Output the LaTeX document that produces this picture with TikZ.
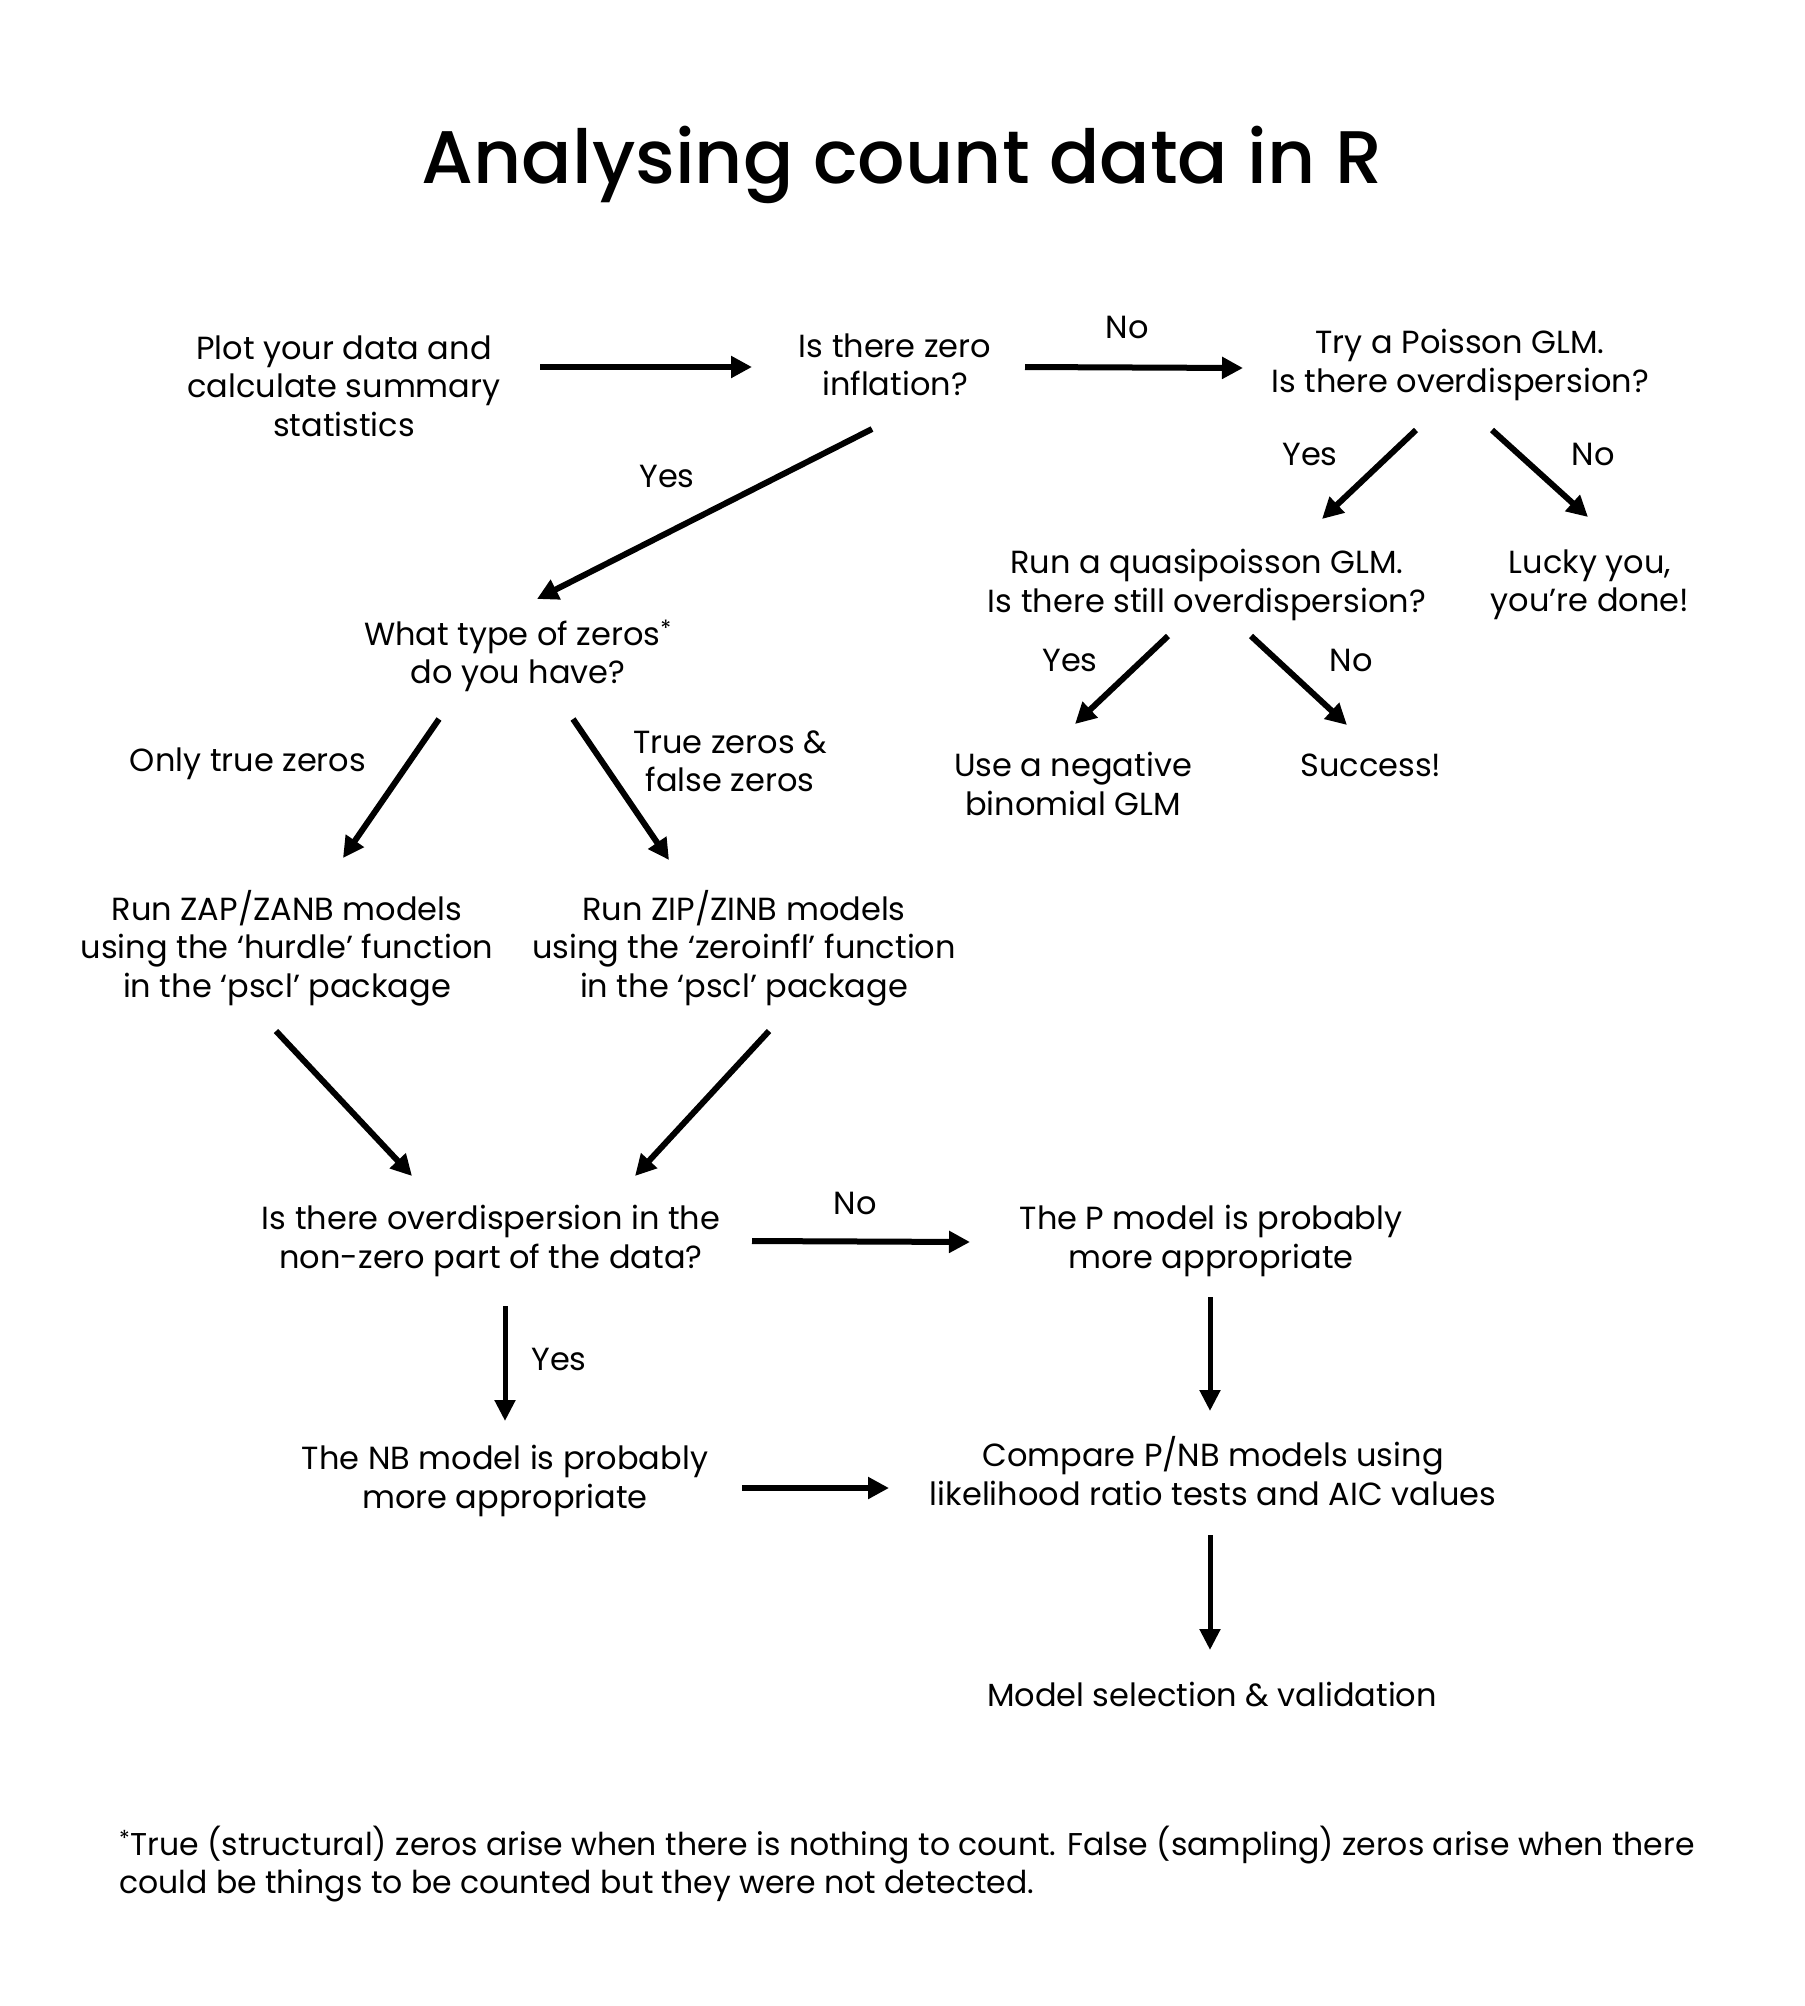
\documentclass[tikz,border=0pt]{standalone}
\usepackage{fontspec}
\setmainfont{Poppins}
\newfontfamily\titlefont{Poppins Medium}
\usetikzlibrary{arrows.meta}
\tikzset{
  txt/.style={align=center, inner sep=0pt, font=\fontsize{32}{38.4}\selectfont},
  lbl/.style={inner sep=0pt, font=\fontsize{32}{38.4}\selectfont},
  arr/.style={line width=6pt, -{Triangle[length=21pt,width=21pt]}},
  varr/.style={line width=5pt, -{Triangle[length=21pt,width=20pt]}}
}
\begin{document}
\begin{tikzpicture}[x=1pt,y=-1pt]
\fill[white] (0,0) rectangle (1805,2006);
\path[use as bounding box] (0,0) rectangle (1805,2006);

\node[anchor=base, inner sep=0pt, font=\fontsize{74.5}{90}\titlefont] (title) at (902,183) {Analysing count data in R};

\node[txt] (plot) at (344,386) {Plot your data and\\calculate summary\\statistics};
\node[txt] (zero) at (895,365) {Is there zero\\inflation?};
\node[txt] (poisson) at (1460,365) {Try a Poisson GLM.\\Is there overdispersion?};
\node[txt] (quasi) at (1207,585) {Run a quasipoisson GLM.\\Is there still overdispersion?};
\node[txt] (lucky) at (1590,585) {Lucky you,\\you’re done!};
\node[txt] (negbin) at (1073,784) {Use a negative\\binomial GLM};
\node[txt] (success) at (1371,765) {Success!};
\node[txt] (what) at (518,656) {What type of zeros\textsuperscript{*}\\do you have?};
\node[txt] (zap) at (287,948) {Run ZAP/ZANB models\\using the ‘hurdle’ function\\in the ‘pscl’ package};
\node[txt] (zip) at (744,948) {Run ZIP/ZINB models\\using the ‘zeroinfl’ function\\in the ‘pscl’ package};
\node[txt] (overd) at (491,1241) {Is there overdispersion in the\\non-zero part of the data?};
\node[txt] (pmod) at (1211,1241) {The P model is probably\\more appropriate};
\node[txt] (nbmod) at (505,1481) {The NB model is probably\\more appropriate};
\node[txt] (compare) at (1213,1471) {Compare P/NB models using\\likelihood ratio tests and AIC values};
\node[txt] (select) at (1212,1694) {Model selection \& validation};

\node[txt, anchor=west, align=left, font=\fontsize{31.5}{38.4}\selectfont] (foot) at (119,1864) {\textsuperscript{*}True (structural) zeros arise when there is nothing to count. False (sampling) zeros arise when there\\could be things to be counted but they were not detected.};

% labels
\node[lbl] (l1) at (1127,327) {No};
\node[lbl] (l2) at (667,476) {Yes};
\node[lbl] (l3) at (1310,454) {Yes};
\node[lbl] (l4) at (1593,454) {No};
\node[lbl] (l5) at (1070,660) {Yes};
\node[lbl] (l6) at (1351,660) {No};
\node[lbl] (l7) at (248,764) {Only true zeros};
\node[txt] (l8) at (730,761) {True zeros \&\\false zeros};
\node[lbl] (l9) at (855,1203) {No};
\node[lbl] (l10) at (559,1359) {Yes};

% connectors
\draw[arr] ([shift={(196,-19)}]plot.center) -- ([shift={(-143,2)}]zero.center);
\draw[arr] ([shift={(130,2)}]zero.center) -- ([shift={(-217,3)}]poisson.center);
\draw[arr] ([shift={(-23,64)}]zero.center) -- ([shift={(19,-57)}]what.center);
\draw[arr] ([shift={(-44,65)}]poisson.center) -- ([shift={(115,-66)}]quasi.center);
\draw[arr] ([shift={(32,65)}]poisson.center) -- ([shift={(-2,-68)}]lucky.center);
\draw[arr] ([shift={(-39,51)}]quasi.center) -- ([shift={(2,-60)}]negbin.center);
\draw[arr] ([shift={(44,51)}]quasi.center) -- ([shift={(-24,-40)}]success.center);
\draw[arr] ([shift={(-79,63)}]what.center) -- ([shift={(56,-90)}]zap.center);
\draw[arr] ([shift={(55,63)}]what.center) -- ([shift={(-75,-88)}]zip.center);
\draw[arr] ([shift={(-11,83)}]zap.center) -- ([shift={(-79,-65)}]overd.center);
\draw[arr] ([shift={(25,83)}]zip.center) -- ([shift={(144,-65)}]overd.center);
\draw[arr] ([shift={(261,0)}]overd.center) -- ([shift={(-241,1)}]pmod.center);
\draw[varr] ([shift={(14,65)}]overd.center) -- ([shift={(0,-60)}]nbmod.center);
\draw[varr] ([shift={(-1,56)}]pmod.center) -- ([shift={(-3,-60)}]compare.center);
\draw[arr] ([shift={(237,7)}]nbmod.center) -- ([shift={(-324,17)}]compare.center);
\draw[varr] ([shift={(-3,64)}]compare.center) -- ([shift={(-2,-44)}]select.center);
\end{tikzpicture}
\end{document}
